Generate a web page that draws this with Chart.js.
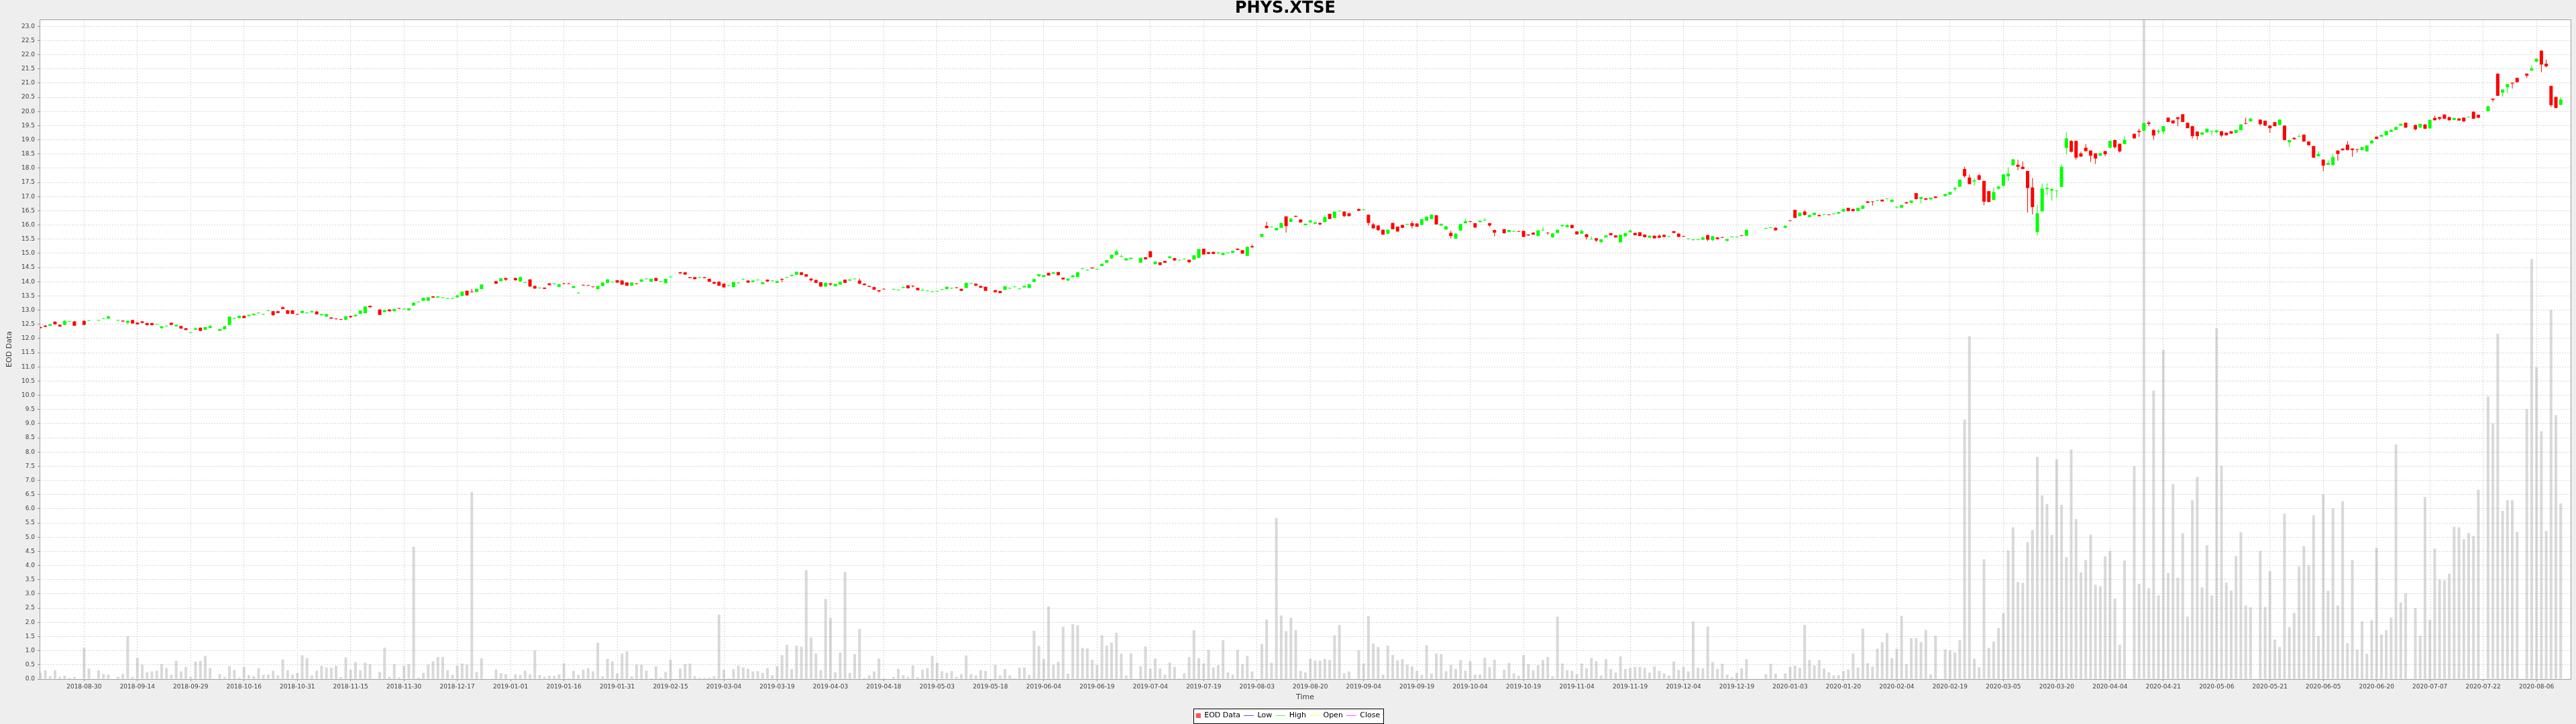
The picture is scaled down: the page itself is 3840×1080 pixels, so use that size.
<!DOCTYPE html>
<html>
<head>
<meta charset="utf-8">
<script src="https://cdn.jsdelivr.net/npm/chart.js@4.4.1/dist/chart.umd.min.js"></script>
<style>
html,body{margin:0;padding:0;background:#eeeeee;}
#wrap{width:3840px;height:1080px;}
canvas{display:block;}
</style>
</head>
<body>
<div id="wrap"><canvas id="c" width="3840" height="1080"></canvas></div>
<script>
// ---------------- data ----------------
const chartTitle = 'PHYS.XTSE';
const seriesName = 'EOD Data';
const lineSeries = ['Low', 'High', 'Open', 'Close'];
const firstSlot = -9;          // weekday slot of the first array element (slot 0 = 2018-08-30)
const tickStep = 11;           // weekdays between date ticks
const tickLabels = ['2018-08-30','2018-09-14','2018-09-29','2018-10-16','2018-10-31','2018-11-15','2018-11-30','2018-12-17',
 '2019-01-01','2019-01-16','2019-01-31','2019-02-15','2019-03-04','2019-03-19','2019-04-03','2019-04-18','2019-05-03',
 '2019-05-18','2019-06-04','2019-06-19','2019-07-04','2019-07-19','2019-08-03','2019-08-20','2019-09-04','2019-09-19',
 '2019-10-04','2019-10-19','2019-11-04','2019-11-19','2019-12-04','2019-12-19','2020-01-03','2020-01-20','2020-02-04',
 '2020-02-19','2020-03-05','2020-03-20','2020-04-04','2020-04-21','2020-05-06','2020-05-21','2020-06-05','2020-06-20',
 '2020-07-07','2020-07-22','2020-08-06'];

const open = [
12.40,12.45,12.45,12.59,12.48,12.48,12.59,12.60,null,12.62,
12.62,null,12.63,12.69,12.70,null,12.63,12.63,12.55,12.65,
12.56,12.60,12.54,12.54,12.49,12.37,12.43,12.55,12.43,12.44,
12.36,12.20,12.31,12.38,12.31,12.37,null,12.27,12.33,12.48,
12.70,12.72,12.80,12.79,12.82,12.89,12.84,12.97,12.96,12.96,
13.10,12.99,12.99,12.86,12.90,12.89,12.92,12.95,12.82,12.77,
12.74,12.70,12.68,12.66,12.79,12.78,12.87,12.89,13.15,null,
13.02,12.93,13.02,12.96,13.07,13.03,12.99,13.16,13.28,13.33,
13.33,13.48,13.44,13.43,13.40,13.40,13.45,13.50,13.68,13.65,
13.64,13.74,null,null,14.02,14.02,14.13,null,14.13,14.01,
13.96,14.08,13.85,13.77,13.79,13.94,13.91,13.82,13.94,13.94,
13.78,13.59,13.89,13.88,13.83,13.74,13.85,13.96,13.98,14.05,
14.04,13.97,13.86,13.94,14.00,14.09,14.00,14.13,14.00,13.95,
14.16,null,14.33,14.33,14.16,14.16,14.14,14.16,14.10,13.99,
14.00,13.93,13.85,13.81,13.95,14.07,14.04,13.99,14.05,13.92,
14.07,14.02,13.96,14.10,14.14,14.20,14.25,14.33,14.26,14.11,
14.06,13.98,13.83,13.94,13.84,13.90,14.07,14.04,14.09,14.04,
13.93,13.85,13.81,13.70,13.75,null,13.72,13.70,13.78,13.87,
13.85,13.78,13.69,13.67,13.64,13.65,13.71,13.74,13.76,13.80,
13.75,13.78,13.93,13.93,13.85,13.82,null,13.70,13.67,13.71,
13.76,13.81,13.74,13.80,13.78,13.99,14.19,14.17,14.31,14.28,
14.34,14.14,14.04,14.16,14.17,14.45,14.40,14.50,14.43,14.55,
14.67,14.82,14.95,14.88,14.75,14.80,null,14.67,14.86,15.07,
14.62,14.68,14.73,14.83,14.83,14.75,14.79,14.77,14.78,14.84,
15.16,15.04,15.05,15.00,14.94,15.01,15.02,15.16,15.11,14.91,
15.25,null,15.58,15.97,15.92,15.81,15.90,16.30,16.11,16.32,
16.19,15.99,16.09,16.04,16.07,16.10,16.39,16.25,16.48,16.47,
16.41,null,16.56,16.53,16.36,16.02,15.98,15.83,15.69,16.07,
15.94,16.00,16.01,16.06,16.05,16.00,16.15,16.21,16.34,15.98,
15.84,15.72,15.52,15.80,16.06,16.13,16.06,16.10,16.16,16.06,
15.82,null,15.85,15.75,15.76,15.78,15.79,15.66,15.73,15.61,
15.81,15.73,15.57,15.72,15.96,15.92,16.00,15.77,15.69,15.67,
15.49,15.53,15.40,15.56,15.71,15.63,15.39,15.60,15.74,15.72,
15.74,15.66,15.55,15.62,15.62,15.65,15.58,15.78,15.69,15.61,
15.50,15.47,15.47,15.48,15.64,15.47,15.56,15.57,15.44,15.57,
15.57,15.63,15.62,null,null,null,15.87,15.90,15.90,null,
15.90,16.16,16.53,16.31,16.47,16.28,16.35,16.35,16.36,16.37,
16.38,16.40,16.47,16.60,16.56,16.49,16.57,16.83,16.83,16.85,
16.89,16.91,16.81,16.62,16.61,16.80,16.78,17.12,16.92,16.94,
16.90,17.00,null,17.02,17.07,17.26,17.35,17.97,17.67,17.53,
17.75,17.55,17.19,16.88,17.28,17.38,17.71,18.10,18.12,18.05,
17.90,17.32,15.75,16.48,17.26,17.21,17.19,17.34,18.71,18.96,
18.96,18.52,18.72,18.62,18.52,18.44,18.60,18.72,18.99,18.86,
18.85,null,19.21,19.31,19.32,19.61,19.35,19.28,19.29,19.78,
19.68,19.79,19.90,19.60,19.48,19.29,19.18,19.26,19.29,19.27,
19.30,19.25,19.30,19.24,19.34,19.58,19.65,null,19.71,19.67,
19.50,19.62,19.52,19.50,18.91,19.07,19.11,19.18,18.94,18.78,
18.42,18.30,18.12,18.11,18.62,18.69,18.83,18.69,18.67,18.64,
18.59,18.87,19.11,19.11,19.16,19.28,19.35,19.50,19.60,null,
19.52,19.43,19.54,19.40,19.77,19.80,19.89,19.80,19.70,19.75,
19.78,19.79,19.99,19.88,null,20.01,20.45,21.33,20.66,20.85,
21.01,21.18,null,21.33,21.44,21.75,22.14,21.68,20.90,20.51,20.23];

const high = [
12.42,12.47,12.52,12.61,12.50,12.64,12.62,12.62,null,12.64,
12.65,null,12.66,12.72,12.80,null,12.66,12.64,12.63,12.66,
12.57,12.61,12.55,12.55,12.52,12.44,12.46,12.56,12.49,12.45,
12.37,12.23,12.37,12.39,12.41,12.48,null,12.34,12.44,12.78,
12.73,12.81,12.81,12.84,12.88,12.92,12.87,13.00,12.97,12.97,
13.13,13.00,13.00,12.87,12.98,12.93,12.97,12.96,12.87,12.87,
12.75,12.71,12.69,12.79,12.80,12.84,12.99,13.14,13.16,null,
13.03,13.01,13.03,13.05,13.08,13.06,13.07,13.27,13.31,13.44,
13.46,13.49,13.49,13.46,13.43,13.43,13.53,13.66,13.69,13.75,
13.76,13.91,null,null,14.03,14.13,14.14,null,14.14,14.19,
13.99,14.09,13.86,13.80,13.80,13.95,13.95,13.92,13.95,13.95,
13.85,13.63,13.90,13.89,13.84,13.86,13.98,14.09,14.01,14.06,
14.05,13.98,13.98,13.95,14.09,14.13,14.11,14.14,14.03,14.11,
14.20,null,14.35,14.34,14.17,14.17,14.17,14.17,14.11,14.00,
14.01,13.94,13.88,14.00,13.98,14.11,14.05,14.05,14.08,13.99,
14.08,14.05,14.03,14.12,14.17,14.25,14.36,14.34,14.27,14.12,
14.07,13.99,13.97,13.95,13.93,14.01,14.08,14.09,14.12,14.12,
13.94,13.86,13.82,13.71,13.76,null,13.75,13.73,13.82,13.88,
13.88,13.79,13.76,13.70,13.67,13.68,13.74,13.83,13.79,13.81,
13.76,13.97,13.96,13.94,13.86,13.83,null,13.71,13.68,13.85,
13.79,13.84,13.77,13.86,13.92,14.10,14.27,14.24,14.32,14.34,
14.35,14.15,14.12,14.23,14.34,14.48,14.43,14.51,14.46,14.64,
14.77,14.96,15.12,14.95,14.83,14.85,null,14.85,14.87,15.08,
14.72,14.69,14.74,14.90,14.84,14.78,14.82,14.78,14.94,15.16,
15.17,15.05,15.06,15.04,15.02,15.04,15.10,15.18,15.12,15.24,
15.31,null,15.69,16.11,15.95,15.90,16.08,16.31,16.23,16.33,
16.20,16.05,16.17,16.10,16.08,16.35,16.40,16.48,16.51,16.48,
16.42,null,16.58,16.56,16.37,16.08,15.99,15.84,15.84,16.08,
15.95,16.01,16.04,16.14,16.06,16.21,16.30,16.38,16.35,16.05,
15.96,15.80,15.72,16.04,16.22,16.14,16.07,16.16,16.25,16.07,
15.83,null,15.86,15.83,15.79,15.79,15.80,15.67,15.74,15.82,
15.93,15.74,15.71,15.84,16.01,16.04,16.01,15.78,15.85,15.68,
15.60,15.54,15.50,15.64,15.72,15.64,15.66,15.72,15.84,15.73,
15.75,15.67,15.63,15.63,15.67,15.66,15.61,15.79,15.72,15.62,
15.53,15.50,15.50,15.57,15.65,15.61,15.57,15.58,15.51,15.60,
15.60,15.64,15.84,null,null,null,15.90,15.93,15.91,null,
15.98,16.17,16.54,16.44,16.52,16.36,16.44,16.36,16.39,16.38,
16.41,16.46,16.57,16.61,16.57,16.61,16.69,16.84,16.84,16.88,
16.90,16.94,16.90,16.65,16.71,16.81,16.87,17.13,16.99,16.95,
16.97,17.01,null,17.10,17.17,17.35,17.60,18.05,17.77,17.65,
17.80,17.56,17.20,17.32,17.39,17.79,18.03,18.33,18.30,18.24,
17.91,17.65,16.71,17.46,17.46,17.30,17.22,18.12,19.26,18.98,
18.97,18.58,18.85,18.63,18.53,18.54,18.61,18.98,19.00,18.87,
19.12,null,19.22,19.39,19.60,19.66,19.36,19.38,19.49,19.79,
19.69,19.80,19.91,19.61,19.49,19.30,19.27,19.40,19.33,19.36,
19.31,19.26,19.31,19.36,19.55,19.78,19.78,null,19.72,19.68,
19.51,19.63,19.72,19.51,19.00,19.08,19.20,19.19,18.95,18.79,
18.60,18.31,18.27,18.50,18.63,18.70,18.96,18.70,18.68,18.75,
18.81,18.98,19.12,19.18,19.32,19.36,19.46,19.57,19.61,null,
19.53,19.57,19.55,19.71,19.85,19.81,19.90,19.81,19.78,19.76,
19.79,19.82,20.00,19.89,null,20.21,20.46,21.34,20.78,20.97,
21.02,21.19,null,21.34,21.62,21.88,22.15,21.82,20.91,20.52,20.50];

const low = [
12.35,12.40,12.44,12.48,12.41,12.47,12.58,12.44,null,12.47,
12.61,null,12.62,12.68,12.69,null,12.62,12.59,12.50,12.52,
12.49,12.54,12.45,12.46,12.48,12.33,12.42,12.47,12.42,12.34,
12.29,12.19,12.30,12.25,12.30,12.36,null,12.26,12.32,12.47,
12.69,12.71,12.71,12.78,12.81,12.88,12.83,12.96,12.80,12.89,
13.03,12.86,12.86,12.83,12.89,12.88,12.91,12.84,12.81,12.76,
12.69,12.67,12.65,12.65,12.72,12.77,12.86,12.88,13.09,null,
12.82,12.92,12.95,12.95,13.04,13.02,12.98,13.15,13.27,13.32,
13.32,13.43,13.43,13.42,13.39,13.39,13.44,13.49,13.51,13.62,
13.63,13.73,null,null,13.92,14.01,14.03,null,14.04,14.00,
13.95,13.82,13.75,13.76,13.74,13.87,13.90,13.81,13.91,13.91,
13.77,13.58,13.86,13.85,13.80,13.73,13.84,13.95,13.97,13.96,
13.88,13.85,13.85,13.91,13.99,14.08,13.99,14.02,13.99,13.94,
14.15,null,14.28,14.24,14.12,14.08,14.12,14.12,13.99,13.92,
13.85,13.79,13.84,13.80,13.94,14.06,13.96,13.98,14.04,13.90,
14.00,14.01,13.95,13.98,14.13,14.19,14.24,14.23,14.17,14.00,
13.95,13.82,13.82,13.85,13.83,13.89,13.95,14.03,14.08,13.92,
13.87,13.81,13.71,13.62,13.72,null,13.71,13.69,13.77,13.76,
13.80,13.69,13.68,13.66,13.62,13.64,13.70,13.73,13.75,13.77,
13.67,13.77,13.92,13.85,13.78,13.67,null,13.62,13.59,13.70,
13.75,13.80,13.73,13.79,13.77,13.98,14.18,14.16,14.21,14.27,
14.22,14.07,14.03,14.15,14.16,14.44,14.39,14.46,14.42,14.54,
14.66,14.81,14.94,14.86,14.74,14.79,null,14.66,14.78,14.85,
14.61,14.58,14.66,14.82,14.74,14.74,14.78,14.65,14.77,14.83,
14.95,14.97,14.97,14.99,14.93,15.00,15.01,15.11,14.98,14.90,
15.20,null,15.55,15.88,15.91,15.80,15.89,15.73,16.10,16.28,
16.08,15.98,16.08,16.03,15.99,16.09,16.20,16.24,16.47,16.28,
16.30,null,16.49,16.52,15.98,15.87,15.78,15.65,15.68,15.84,
15.76,15.89,16.00,15.88,15.93,15.99,16.14,16.20,16.01,15.97,
15.83,15.52,15.51,15.79,16.05,16.08,15.90,16.09,16.15,15.93,
15.60,null,15.70,15.74,15.75,15.75,15.57,15.62,15.65,15.60,
15.80,15.65,15.54,15.71,15.95,15.91,15.88,15.66,15.68,15.48,
15.48,15.40,15.36,15.55,15.63,15.55,15.38,15.59,15.73,15.63,
15.60,15.56,15.54,15.52,15.54,15.57,15.57,15.71,15.57,15.58,
15.49,15.44,15.46,15.47,15.43,15.42,15.49,15.54,15.43,15.56,
15.56,15.60,15.61,null,null,null,15.86,15.89,15.80,null,
15.89,16.13,16.24,16.30,16.34,16.27,16.34,16.30,16.35,16.34,
16.37,16.39,16.46,16.48,16.48,16.48,16.56,16.77,16.68,16.84,
16.82,16.90,16.80,16.58,16.60,16.75,16.77,16.90,16.75,16.88,
16.89,16.94,null,17.00,17.05,17.19,17.34,17.66,17.43,17.38,
17.58,16.69,16.80,16.87,17.24,17.37,17.54,18.09,17.93,17.96,
16.44,16.37,15.63,16.47,17.05,16.86,16.95,17.33,18.48,18.55,
18.30,18.40,18.59,18.22,18.15,18.43,18.42,18.71,18.70,18.55,
18.84,null,19.04,19.10,19.31,19.48,19.00,19.20,19.20,19.62,
19.57,19.48,19.62,19.40,19.04,19.00,19.17,19.25,19.14,19.22,
19.10,19.15,19.21,19.23,19.33,19.55,19.64,null,19.50,19.49,
19.25,19.47,19.51,18.98,18.76,19.01,19.10,18.93,18.80,18.36,
18.41,17.89,18.11,18.10,18.26,18.62,18.63,18.40,18.55,18.63,
18.58,18.86,19.02,19.10,19.15,19.27,19.34,19.49,19.42,null,
19.33,19.42,19.37,19.39,19.68,19.70,19.73,19.66,19.69,19.67,
19.62,19.78,19.73,19.76,null,20.00,20.33,20.54,20.52,20.65,
20.80,21.02,null,21.18,21.43,21.74,21.38,21.55,20.15,20.11,20.22];

const close = [
12.37,12.41,12.50,12.50,12.42,12.62,12.61,12.45,null,12.48,
12.64,null,12.65,12.71,12.78,null,12.65,12.60,12.62,12.53,
12.50,12.55,12.47,12.47,12.51,12.43,12.45,12.48,12.48,12.35,
12.30,12.22,12.36,12.27,12.40,12.44,null,12.33,12.43,12.77,
12.72,12.80,12.72,12.83,12.87,12.91,12.86,12.99,12.82,12.90,
13.04,12.87,12.87,12.84,12.97,12.91,12.96,12.85,12.86,12.86,
12.70,12.68,12.66,12.78,12.75,12.83,12.98,13.13,13.10,null,
12.83,13.00,12.96,13.04,13.05,13.05,13.06,13.26,13.30,13.43,
13.45,13.44,13.48,13.45,13.42,13.42,13.52,13.65,13.52,13.63,
13.75,13.90,null,null,13.93,14.12,14.07,null,14.05,14.16,
13.98,13.83,13.76,13.79,13.75,13.88,13.93,13.91,13.92,13.92,
13.84,13.61,13.87,13.86,13.81,13.85,13.97,14.08,14.00,13.97,
13.90,13.86,13.97,13.92,14.08,14.11,14.10,14.03,14.02,14.10,
14.18,null,14.29,14.25,14.13,14.09,14.16,14.13,14.00,13.93,
13.86,13.80,13.87,13.99,13.97,14.09,13.97,14.04,14.07,13.98,
14.01,14.04,14.02,14.07,14.16,14.24,14.35,14.24,14.18,14.05,
13.96,13.83,13.96,13.90,13.92,14.00,13.96,14.08,14.11,13.93,
13.88,13.82,13.72,13.66,13.73,null,13.74,13.72,13.81,13.77,
13.83,13.70,13.71,13.69,13.66,13.67,13.73,13.82,13.78,13.78,
13.68,13.96,13.95,13.86,13.79,13.68,null,13.63,13.60,13.84,
13.78,13.83,13.76,13.85,13.91,14.09,14.26,14.23,14.22,14.33,
14.23,14.08,14.11,14.22,14.33,14.47,14.42,14.47,14.45,14.63,
14.76,14.95,15.07,14.90,14.82,14.84,null,14.84,14.79,14.86,
14.71,14.59,14.67,14.89,14.75,14.77,14.81,14.69,14.93,15.15,
14.96,14.98,14.98,15.03,15.01,15.03,15.09,15.12,14.99,15.23,
15.21,null,15.68,15.89,15.94,15.89,16.07,15.96,16.22,16.29,
16.09,16.04,16.16,16.09,16.02,16.28,16.21,16.47,16.50,16.31,
16.31,null,16.50,16.55,16.07,15.88,15.82,15.66,15.83,15.85,
15.77,15.90,16.03,15.96,15.94,16.20,16.29,16.36,16.02,16.04,
15.95,15.61,15.69,16.03,16.13,16.11,15.91,16.15,16.18,15.98,
15.73,null,15.71,15.82,15.78,15.76,15.58,15.63,15.66,15.81,
15.83,15.71,15.70,15.83,16.00,15.99,15.89,15.67,15.79,15.57,
15.51,15.45,15.49,15.63,15.64,15.56,15.65,15.71,15.80,15.64,
15.61,15.57,15.62,15.53,15.55,15.58,15.60,15.72,15.58,15.59,
15.52,15.49,15.49,15.56,15.48,15.60,15.50,15.55,15.50,15.59,
15.59,15.61,15.83,null,null,null,15.89,15.92,15.81,null,
15.97,16.14,16.25,16.43,16.35,16.35,16.43,16.31,16.38,16.35,
16.40,16.45,16.56,16.49,16.49,16.60,16.68,16.78,16.81,16.87,
16.83,16.93,16.89,16.64,16.70,16.76,16.86,16.91,16.98,16.89,
16.96,16.95,null,17.09,17.16,17.30,17.59,17.72,17.44,17.57,
17.59,16.82,16.81,17.16,17.35,17.78,17.81,18.31,18.05,17.97,
17.30,16.63,16.41,17.28,17.30,17.26,17.21,18.05,19.05,18.58,
18.37,18.41,18.60,18.44,18.34,18.53,18.49,18.96,18.74,18.59,
19.00,null,19.05,19.27,19.59,19.56,19.15,19.31,19.48,19.63,
19.58,19.73,19.63,19.41,19.13,19.13,19.26,19.39,19.31,19.33,
19.15,19.16,19.22,19.35,19.54,19.56,19.74,null,19.55,19.50,
19.41,19.48,19.71,18.99,18.99,19.02,19.13,18.94,18.81,18.37,
18.50,18.09,18.18,18.39,18.50,18.63,18.64,18.64,18.65,18.74,
18.80,18.97,19.03,19.17,19.31,19.35,19.45,19.56,19.43,null,
19.37,19.56,19.39,19.70,19.69,19.74,19.74,19.69,19.77,19.68,
19.65,19.81,19.74,19.78,null,20.18,20.41,20.55,20.77,20.96,
20.98,21.03,null,21.26,21.52,21.85,21.65,21.59,20.22,20.12,20.42];

// volume, as drawn on the price axis (scaled)
const volume = [
0.22,0.31,0.10,0.31,0.08,0.12,0.04,0.08,null,1.10,
0.37,null,0.31,0.18,0.16,null,0.08,0.18,1.51,0.08,
0.74,0.51,0.24,0.27,0.30,0.53,0.39,0.15,0.64,0.27,
0.43,0.08,0.62,0.64,0.82,0.39,null,0.18,0.08,0.46,
0.32,0.05,0.43,0.14,0.10,0.38,0.15,0.16,0.29,0.13,
0.69,0.31,0.16,0.22,0.84,0.74,0.13,0.30,0.47,0.41,
0.40,0.47,0.07,0.76,0.33,0.60,0.31,0.58,0.53,null,
0.25,1.11,0.08,0.53,0.06,0.47,0.53,4.67,0.05,0.22,
0.51,0.63,0.78,0.78,0.31,0.15,0.47,0.55,0.51,6.59,
0.25,0.73,null,null,0.33,0.21,0.17,null,0.17,0.15,
0.30,0.17,1.01,0.14,0.08,0.12,0.11,0.17,0.55,0.03,
0.29,0.15,0.33,0.38,0.27,1.28,0.10,0.71,0.62,0.20,
0.90,0.98,0.09,0.51,0.51,0.30,0.03,0.45,0.05,0.25,
0.68,null,0.37,0.53,0.55,0.10,0.05,0.04,0.05,0.10,
2.27,0.33,0.03,0.35,0.47,0.41,0.36,0.27,0.28,0.22,
0.39,0.14,0.45,0.85,1.21,0.35,1.18,1.14,3.84,1.46,
0.90,0.32,2.82,2.16,0.24,0.93,3.78,0.22,0.88,1.77,
0.04,0.13,0.27,0.72,0.03,null,0.08,0.36,0.14,0.08,
0.48,0.07,0.33,0.39,0.82,0.57,0.28,0.22,0.28,0.08,
0.17,0.83,0.18,0.13,0.31,0.29,null,0.50,0.13,0.35,
0.13,0.03,0.40,0.41,0.15,1.70,1.17,0.71,2.56,0.51,
0.61,1.84,0.19,1.94,1.90,1.10,1.08,0.68,0.50,1.55,
1.18,1.28,1.63,0.89,0.13,0.91,null,0.45,1.15,0.37,
0.73,0.37,0.16,0.58,0.43,0.03,0.20,0.78,1.72,0.74,
0.55,1.03,0.41,0.49,1.37,0.24,0.16,1.03,0.53,0.82,
0.27,null,1.24,2.10,0.57,5.68,2.24,1.69,2.16,1.73,
0.29,0.24,0.72,0.65,0.65,0.71,0.67,1.54,1.91,0.20,
0.27,null,1.02,0.55,2.22,1.25,1.13,0.16,1.18,0.85,
0.66,0.70,0.51,0.45,0.29,0.15,1.19,0.20,0.90,0.88,
0.28,0.50,0.36,0.67,0.29,0.63,0.16,0.16,0.75,0.42,
0.68,null,0.33,0.57,0.20,0.12,0.84,0.53,0.31,0.49,
0.67,0.78,0.10,2.20,0.55,0.32,0.29,0.18,0.55,0.38,
0.74,0.63,0.13,0.70,0.35,0.23,0.80,0.36,0.39,0.43,
0.43,0.39,0.23,0.44,0.29,0.20,0.13,0.62,0.32,0.43,
0.27,2.03,0.40,0.38,1.85,0.60,0.36,0.54,0.16,0.06,
0.22,0.38,0.70,null,null,null,0.17,0.54,0.19,null,
0.20,0.43,0.47,0.39,1.91,0.67,0.48,0.67,0.37,0.24,
0.13,0.14,0.28,0.34,0.90,0.41,1.78,0.56,0.44,1.07,
1.30,1.62,0.74,1.07,2.23,0.53,1.44,1.44,1.31,1.73,
0.17,1.53,null,1.05,1.00,0.94,1.37,9.14,12.08,0.72,
0.42,4.22,1.10,1.32,1.80,2.33,4.53,5.35,3.42,3.39,
4.82,5.25,7.83,6.47,6.17,5.08,7.74,6.14,4.30,8.09,
5.64,3.76,4.20,5.09,3.32,3.27,4.32,4.51,2.84,1.21,
4.18,null,7.50,3.36,23.24,3.20,10.17,2.95,11.59,3.74,
6.87,3.58,5.14,2.20,6.30,7.12,3.23,4.72,2.95,12.36,
7.51,3.40,3.12,4.34,5.17,2.59,2.53,null,4.51,2.54,
3.80,1.39,1.13,5.83,1.83,2.33,3.97,4.69,4.01,5.77,
1.52,6.52,3.12,6.01,2.59,6.27,1.27,4.19,1.04,2.03,
0.89,2.08,4.63,1.57,1.72,2.17,8.26,2.70,3.02,null,
2.50,1.53,6.41,2.09,4.60,3.51,3.48,3.71,5.37,5.35,
4.93,5.14,5.04,6.67,null,9.96,9.01,12.17,5.93,6.30,
6.30,5.19,null,9.51,14.80,10.99,8.73,5.22,13.00,9.30,6.19];

// ---------------- styling ----------------
const FONT = 'DejaVu Sans';
const UP = '#00ff00', DOWN = '#ff0000';
const legendColors = {'EOD Data': '#ff5555', 'Low': '#5555ff', 'High': '#55ff55', 'Open': '#ffff55', 'Close': '#ff55ff'};
Chart.defaults.font.family = FONT;

function legendSymbol(color, square) {
  const c = document.createElement('canvas');
  c.width = 15; c.height = 7;
  const g = c.getContext('2d');
  g.fillStyle = color;
  if (square) g.fillRect(8, 0, 7, 7); else g.fillRect(0, 3, 15, 1);
  return c;
}

const bodyData = [], wickData = [], volumeData = [];
open.forEach((o, i) => {
  const slot = firstSlot + i;
  if (o !== null) {
    bodyData.push({x: slot, y: [o, close[i]], i: i});
    wickData.push({x: slot, y: [low[i], high[i]], i: i});
  }
  if (volume[i] !== null) volumeData.push({x: slot, y: volume[i]});
});
const candleColor = ctx => {
  const r = ctx.raw;
  if (!r) return DOWN;
  return close[r.i] >= open[r.i] ? UP : DOWN;
};

const datasets = [
  {type: 'bar', label: seriesName, data: bodyData, backgroundColor: candleColor, borderWidth: 0,
   barThickness: 5, grouped: false, inflateAmount: 0, order: 1,
   legendSymbol: legendSymbol(legendColors[seriesName], true)},
  {type: 'bar', label: seriesName + ' range', data: wickData, backgroundColor: candleColor, borderWidth: 0,
   barThickness: 1, grouped: false, inflateAmount: 0, order: 2},
  {type: 'bar', label: 'Volume', data: volumeData, backgroundColor: 'rgba(128,128,128,0.3)', borderWidth: 0,
   barThickness: 4, grouped: false, inflateAmount: 0, order: 3}
].concat(lineSeries.map(name => ({
  type: 'line', label: name, data: [], borderColor: legendColors[name], borderWidth: 1,
  pointRadius: 0, legendSymbol: legendSymbol(legendColors[name], false)
})));

function legendRect(chart) {
  const boxes = chart.legend && chart.legend.legendHitBoxes;
  if (!boxes || !boxes.length) return null;
  const first = boxes[0], last = boxes[boxes.length - 1];
  const cy = first.top + first.height / 2;
  const x0 = Math.round(first.left + 4.3), x1 = Math.round(last.left + last.width + 4.7);
  const y0 = Math.round(cy - 11);
  return {x: x0, y: y0, w: x1 - x0, h: 22};
}

const framePlugin = {
  id: 'frame',
  beforeDraw(chart) {
    const {ctx, chartArea: a} = chart;
    ctx.save();
    ctx.fillStyle = '#eeeeee';
    ctx.fillRect(0, 0, chart.width, chart.height);
    ctx.fillStyle = '#ffffff';
    ctx.fillRect(a.left, a.top, a.right - a.left, a.bottom - a.top);
    const r = legendRect(chart);
    if (r) ctx.fillRect(r.x, r.y, r.w, r.h);
    ctx.restore();
  },
  afterDatasetsDraw(chart) {
    const {ctx, chartArea: a} = chart;
    ctx.save();
    ctx.strokeStyle = '#a0a0a0';
    ctx.lineWidth = 1;
    ctx.strokeRect(a.left + 0.5, a.top + 0.5, a.right - a.left, a.bottom - a.top);
    ctx.restore();
  },
  afterDraw(chart) {
    const r = legendRect(chart);
    if (!r) return;
    const ctx = chart.ctx;
    ctx.save();
    ctx.strokeStyle = '#000000';
    ctx.lineWidth = 1;
    ctx.strokeRect(r.x + 0.5, r.y + 0.5, r.w, r.h);
    ctx.restore();
  }
};

new Chart(document.getElementById('c'), {
  type: 'bar',
  data: {datasets},
  plugins: [framePlugin],
  options: {
    responsive: false,
    devicePixelRatio: 1,
    animation: false,
    events: [],
    layout: {padding: {left: 0, right: 8, top: 0, bottom: -3}},
    plugins: {
      tooltip: {enabled: false},
      title: {display: true, text: chartTitle, color: '#000000',
              font: {family: FONT, size: 24, weight: 'bold', lineHeight: 1}, padding: {top: 1, bottom: 4}},
      legend: {
        display: true, position: 'bottom', align: 'center',
        labels: {
          font: {family: FONT, size: 11}, color: '#000000',
          usePointStyle: true, pointStyleWidth: 15, boxHeight: 7, padding: 5,
          generateLabels: chart => chart.data.datasets.map((ds, idx) => ds.legendSymbol ? {
            text: ds.label, pointStyle: ds.legendSymbol, fillStyle: 'rgba(0,0,0,0)', strokeStyle: 'rgba(0,0,0,0)',
            lineWidth: 0, hidden: false, datasetIndex: idx, fontColor: '#000000'
          } : null).filter(Boolean)
        }
      }
    },
    scales: {
      x: {
        type: 'linear', bounds: 'data', min: -9.18, max: 513.04, offset: false,
        afterBuildTicks: s => { s.ticks = tickLabels.map((_, i) => ({value: i * tickStep})); },
        afterFit: s => { s.height = 44; },
        ticks: {autoSkip: false, maxRotation: 0, minRotation: 0, padding: 3, color: '#404040',
                font: {family: FONT, size: 9}, callback: (v, i) => tickLabels[i]},
        grid: {color: '#d6d6d6', lineWidth: 1, offset: false, drawTicks: true, tickLength: 3,
               tickColor: '#909090', tickWidth: 1, tickBorderDash: []},
        border: {display: false, dash: [2, 2]},
        title: {display: true, text: 'Time', color: '#404040', font: {family: FONT, size: 11, lineHeight: 1.2},
                padding: {top: 0, bottom: 10}}
      },
      y: {
        type: 'linear', min: 0, max: 23.24,
        afterFit: s => { s.width = 59; },
        ticks: {stepSize: 0.5, includeBounds: false, autoSkip: false, padding: 4, color: '#404040',
                font: {family: FONT, size: 9}, callback: v => Number(v).toFixed(1)},
        grid: {color: '#d6d6d6', lineWidth: 1, drawTicks: true, tickLength: 3,
               tickColor: '#909090', tickWidth: 1, tickBorderDash: []},
        border: {display: false, dash: [2, 2]},
        title: {display: true, text: 'EOD Data', color: '#404040', font: {family: FONT, size: 11, lineHeight: 1.2},
                padding: {top: 8, bottom: 0}}
      }
    }
  }
});
</script>
</body>
</html>
